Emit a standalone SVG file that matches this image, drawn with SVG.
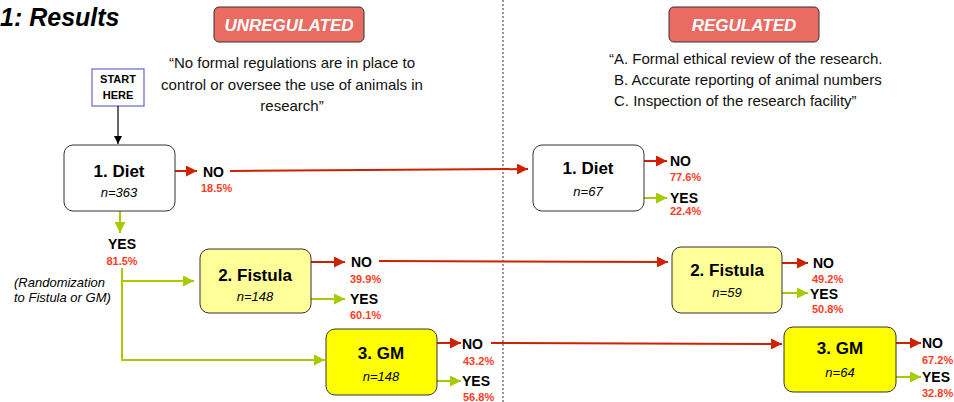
<svg xmlns="http://www.w3.org/2000/svg" width="954" height="402" viewBox="0 0 954 402">
<style>
text{font-family:"Liberation Sans",Arial,sans-serif;fill:#000}
.title{font-size:25px;font-weight:bold;font-style:italic}
.hdr{fill:#e96b62;stroke:#333;stroke-width:1}
.hdrt{font-size:17px;font-weight:bold;font-style:italic;fill:#fff;text-anchor:middle}
.q{font-size:15px;fill:#111}
.node{stroke:#333;stroke-width:1}
.white{fill:#fff}
.lyel{fill:#ffff99}
.yel{fill:#ffff00}
.nt{font-size:17px;font-weight:bold;text-anchor:middle}
.nn{font-size:13px;font-style:italic;text-anchor:middle}
.ans{font-size:14px;font-weight:bold}
.pct{font-size:11px;font-weight:bold;fill:#ff3b1f}
.red{stroke:#cc2200;stroke-width:2;fill:none}
.grn{stroke:#a5cc00;stroke-width:2;fill:none}
.blk{stroke:#000;stroke-width:1.2;fill:none}
</style>
<defs>
<marker id="ar" viewBox="0 0 10 10" refX="10" refY="5" markerWidth="5.5" markerHeight="5.5" orient="auto" markerUnits="strokeWidth"><path d="M0,0 L10,5 L0,10 z" fill="#cc2200"/></marker>
<marker id="ag" viewBox="0 0 10 10" refX="10" refY="5" markerWidth="5.5" markerHeight="5.5" orient="auto" markerUnits="strokeWidth"><path d="M0,0 L10,5 L0,10 z" fill="#a5cc00"/></marker>
<marker id="ab" viewBox="0 0 10 10" refX="10" refY="5" markerWidth="7" markerHeight="7" orient="auto" markerUnits="strokeWidth"><path d="M0,0 L10,5 L0,10 z" fill="#000"/></marker>
</defs>
<rect width="954" height="402" fill="#fff"/>
<text class="title" x="0" y="26">1: Results</text>
<line x1="503" y1="0" x2="503" y2="402" stroke="#333" stroke-width="1" stroke-dasharray="2,2"/>
<g id="unregulated">
<rect class="hdr" x="214" y="7" width="150" height="35" rx="5"/>
<text class="hdrt" x="289" y="31">UNREGULATED</text>
<text class="q" text-anchor="middle" x="292" y="68">“No formal regulations are in place to</text>
<text class="q" text-anchor="middle" x="292" y="90">control or oversee the use of animals in</text>
<text class="q" text-anchor="middle" x="292" y="111">research”</text>
</g>
<g id="regulated">
<rect class="hdr" x="669" y="7" width="150" height="35" rx="5"/>
<text class="hdrt" x="744" y="31">REGULATED</text>
<text class="q" x="609" y="64">“A. Formal ethical review of the research.</text>
<text class="q" x="614" y="85">B. Accurate reporting of animal numbers</text>
<text class="q" x="614" y="106">C. Inspection of the research facility”</text>
</g>
<g id="start">
<rect x="92" y="69" width="52" height="37" fill="#fff" stroke="#6666cc" stroke-width="1.2"/>
<text x="118" y="83" font-size="11" font-weight="bold" text-anchor="middle">START</text>
<text x="118" y="99" font-size="11" font-weight="bold" text-anchor="middle">HERE</text>
</g>
<g id="connectors">
<line class="blk" x1="118" y1="106" x2="118" y2="144" marker-end="url(#ab)"/>
<line class="red" x1="175" y1="171" x2="197" y2="171" marker-end="url(#ar)"/>
<line class="red" x1="230" y1="171" x2="528" y2="169" marker-end="url(#ar)"/>
<line class="grn" x1="120" y1="211" x2="120" y2="233" marker-end="url(#ag)"/>
<polyline class="grn" points="122,268 122,360 325,360" marker-end="url(#ag)"/>
<line class="grn" x1="122" y1="281" x2="194" y2="281" marker-end="url(#ag)"/>
<line class="red" x1="311" y1="262" x2="345" y2="262" marker-end="url(#ar)"/>
<line class="grn" x1="311" y1="299" x2="345" y2="299" marker-end="url(#ag)"/>
<line class="red" x1="379" y1="261" x2="668" y2="262" marker-end="url(#ar)"/>
<line class="red" x1="437" y1="343" x2="461" y2="343" marker-end="url(#ar)"/>
<line class="grn" x1="437" y1="381" x2="461" y2="381" marker-end="url(#ag)"/>
<line class="red" x1="491" y1="343" x2="782" y2="344" marker-end="url(#ar)"/>
<line class="red" x1="644" y1="161" x2="667" y2="161" marker-end="url(#ar)"/>
<line class="grn" x1="644" y1="198" x2="667" y2="198" marker-end="url(#ag)"/>
<line class="red" x1="782" y1="263" x2="808" y2="263" marker-end="url(#ar)"/>
<line class="grn" x1="782" y1="293" x2="808" y2="293" marker-end="url(#ag)"/>
<line class="red" x1="896" y1="343" x2="921" y2="343" marker-end="url(#ar)"/>
<line class="grn" x1="896" y1="377" x2="921" y2="377" marker-end="url(#ag)"/>
</g>
<g id="diet-u">
<rect class="node white" x="64" y="145" width="111" height="66" rx="9"/>
<text class="nt" x="119" y="177">1. Diet</text>
<text class="nn" x="119" y="197">n=363</text>
<text class="ans" x="203" y="177">NO</text>
<text class="pct" x="201" y="192">18.5%</text>
<text class="ans" x="122" y="249" text-anchor="middle">YES</text>
<text class="pct" x="122" y="265" text-anchor="middle">81.5%</text>
</g>
<text x="14" y="287" font-size="13" font-style="italic" fill="#222">(Randomization</text>
<text x="14" y="302" font-size="13" font-style="italic" fill="#222">to Fistula or GM)</text>
<g id="fistula-u">
<rect class="node lyel" x="200" y="249" width="111" height="64" rx="9"/>
<text class="nt" x="255" y="281">2. Fistula</text>
<text class="nn" x="255" y="301">n=148</text>
<text class="ans" x="351" y="267">NO</text>
<text class="pct" x="350" y="283">39.9%</text>
<text class="ans" x="350" y="304">YES</text>
<text class="pct" x="350" y="319">60.1%</text>
</g>
<g id="gm-u">
<rect class="node yel" x="326" y="329" width="111" height="66" rx="9"/>
<text class="nt" x="381" y="359">3. GM</text>
<text class="nn" x="381" y="381">n=148</text>
<text class="ans" x="462" y="349">NO</text>
<text class="pct" x="463" y="365">43.2%</text>
<text class="ans" x="462" y="386">YES</text>
<text class="pct" x="463" y="401">56.8%</text>
</g>
<g id="diet-r">
<rect class="node white" x="533" y="145" width="111" height="66" rx="9"/>
<text class="nt" x="588" y="174">1. Diet</text>
<text class="nn" x="588" y="196">n=67</text>
<text class="ans" x="670" y="166">NO</text>
<text class="pct" x="670" y="181">77.6%</text>
<text class="ans" x="670" y="203">YES</text>
<text class="pct" x="670" y="215">22.4%</text>
</g>
<g id="fistula-r">
<rect class="node lyel" x="672" y="247" width="110" height="66" rx="9"/>
<text class="nt" x="727" y="276">2. Fistula</text>
<text class="nn" x="727" y="297">n=59</text>
<text class="ans" x="813" y="268">NO</text>
<text class="pct" x="812" y="283">49.2%</text>
<text class="ans" x="810" y="299">YES</text>
<text class="pct" x="812" y="313">50.8%</text>
</g>
<g id="gm-r">
<rect class="node yel" x="784" y="327" width="112" height="65" rx="9"/>
<text class="nt" x="840" y="354">3. GM</text>
<text class="nn" x="840" y="377">n=64</text>
<text class="ans" x="922" y="348">NO</text>
<text class="pct" x="922" y="364">67.2%</text>
<text class="ans" x="922" y="382">YES</text>
<text class="pct" x="922" y="397">32.8%</text>
</g>
</svg>
